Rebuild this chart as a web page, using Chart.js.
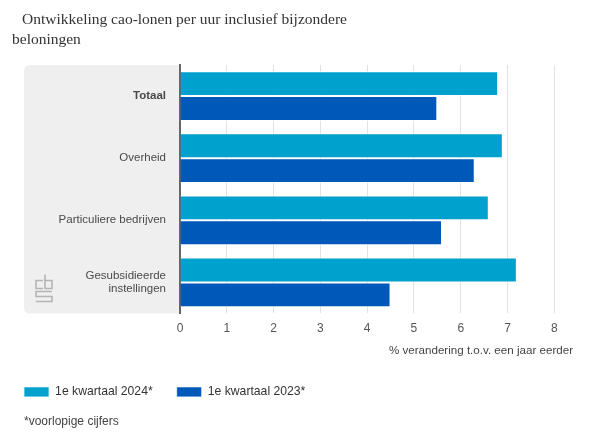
<!DOCTYPE html>
<html>
<head>
<meta charset="utf-8">
<script src="https://cdn.jsdelivr.net/npm/chart.js@4"></script>
<style>
  body { margin: 0; background: #fff; }
  #wrap { position: relative; width: 597px; height: 446px; }
  #chart { position: absolute; left: 0; top: 0; }
  #title {
    position: absolute; left: 12px; top: 9px; width: 345px;
    font-family: "Liberation Serif", serif; font-size: 15.5px; line-height: 19.5px;
    color: #333; text-indent: 10px;
  }
  #note {
    position: absolute; left: 24px; top: 414px;
    font-family: "Liberation Sans", Arial, sans-serif; font-size: 12px; color: #444;
  }
</style>
</head>
<body>
<div id="wrap">
  <canvas id="chart" width="597" height="446"></canvas>
  <div id="title">Ontwikkeling cao-lonen per uur inclusief bijzondere beloningen</div>
  <div id="note">*voorlopige cijfers</div>
</div>
<script>
const categories = [
  "Totaal",
  "Overheid",
  "Particuliere bedrijven",
  ["Gesubsidieerde", "instellingen"],
];
const q1_2024 = [6.8, 6.9, 6.6, 7.2];
const q1_2023 = [5.5, 6.3, 5.6, 4.5];
const seriesNames = ["1e kwartaal 2024*", "1e kwartaal 2023*"];
const xTitle = "% verandering t.o.v. een jaar eerder";

const sans = "'Liberation Sans', Arial, sans-serif";

// grey panel behind the category labels, plus the little logo
const panelPlugin = {
  id: "panel",
  beforeDraw(chart) {
    const { ctx, chartArea } = chart;
    const x0 = 24, r = 6;
    const x1 = chartArea.left, y0 = chartArea.top, y1 = chartArea.bottom;
    ctx.save();
    ctx.fillStyle = "#efefef";
    ctx.beginPath();
    ctx.moveTo(x1, y0);
    ctx.lineTo(x0 + r, y0);
    ctx.quadraticCurveTo(x0, y0, x0, y0 + r);
    ctx.lineTo(x0, y1 - r);
    ctx.quadraticCurveTo(x0, y1, x0 + r, y1);
    ctx.lineTo(x1, y1);
    ctx.closePath();
    ctx.fill();

    ctx.strokeStyle = "#b4b4b4";
    ctx.lineWidth = 1.6;
    const lx = 36, ly = y1 - 39;
    ctx.beginPath();
    // c
    ctx.moveTo(lx + 7, ly + 6); ctx.lineTo(lx, ly + 6); ctx.lineTo(lx, ly + 14); ctx.lineTo(lx + 7, ly + 14);
    // b
    ctx.moveTo(lx + 9, ly); ctx.lineTo(lx + 9, ly + 14); ctx.lineTo(lx + 16, ly + 14);
    ctx.lineTo(lx + 16, ly + 6); ctx.lineTo(lx + 9, ly + 6);
    // s
    ctx.moveTo(lx + 16, ly + 17); ctx.lineTo(lx, ly + 17); ctx.lineTo(lx, ly + 22);
    ctx.lineTo(lx + 16, ly + 22); ctx.lineTo(lx + 16, ly + 27); ctx.lineTo(lx, ly + 27);
    ctx.stroke();
    ctx.restore();
  },
};

new Chart(document.getElementById("chart"), {
  type: "bar",
  data: {
    labels: categories,
    datasets: [
      {
        label: seriesNames[0],
        data: q1_2024,
        backgroundColor: "#00a1cd",
        borderColor: "rgba(255,255,255,0.7)",
        borderWidth: 1,
      },
      {
        label: seriesNames[1],
        data: q1_2023,
        backgroundColor: "#0058b8",
        borderColor: "rgba(255,255,255,0.7)",
        borderWidth: 1,
      },
    ],
  },
  options: {
    indexAxis: "y",
    responsive: false,
    animation: false,
    categoryPercentage: 0.8,
    barPercentage: 1.0,
    layout: { padding: { top: 65, left: 0, right: 24, bottom: 38 } },
    scales: {
      x: {
        min: 0,
        max: 8.4,
        ticks: {
          stepSize: 1,
          includeBounds: false,
          padding: 8,
          color: "#555",
          font: { family: sans, size: 12 },
        },
        grid: { color: "#e2e2e2", drawTicks: false },
        border: { display: false },
        title: {
          display: true,
          text: xTitle,
          align: "end",
          color: "#444",
          font: { family: sans, size: 11.6 },
          padding: { top: 0, bottom: 4 },
        },
      },
      y: {
        ticks: {
          padding: 14,
          color: "#4a4a4a",
          font: (c) => ({ family: sans, size: 11.5, weight: c.index === 0 ? "bold" : "normal" }),
        },
        grid: { display: false, drawTicks: false },
        border: { display: true, color: "#666", width: 2 },
        afterFit(scale) {
          scale.width = 180;
        },
      },
    },
    plugins: {
      legend: {
        position: "bottom",
        align: "start",
        labels: {
          boxWidth: 25,
          boxHeight: 10,
          padding: 24,
          color: "#333",
          font: { family: sans, size: 12.2 },
          useBorderRadius: false,
        },
      },
      tooltip: { enabled: false },
    },
  },
  plugins: [panelPlugin],
});
</script>
</body>
</html>
